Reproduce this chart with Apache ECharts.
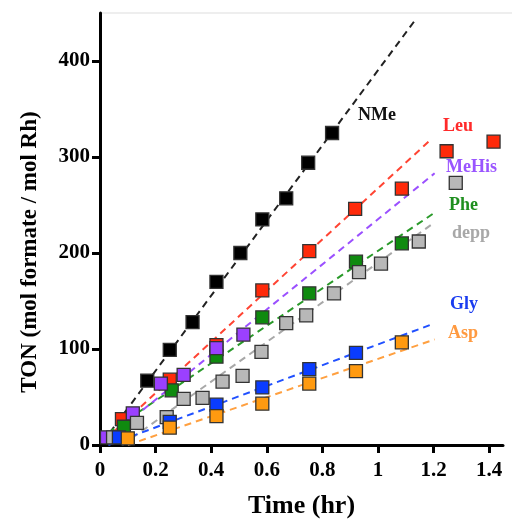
<!DOCTYPE html>
<html>
<head>
<meta charset="utf-8">
<script src="https://cdn.jsdelivr.net/npm/echarts@6/dist/echarts.min.js"></script>
<style>
  html, body { margin: 0; padding: 0; background: #fff; }
  #chart { width: 512px; height: 521px; }
</style>
</head>
<body>
<div id="chart"></div>
<script>
// measured points [time (hr), TON]
const nmePts = [[0.17, 67], [0.251, 99], [0.333, 128], [0.419, 170], [0.505, 200], [0.584, 235], [0.67, 257], [0.749, 294], [0.835, 325]]
const leuPts = [[0.079, 27], [0.251, 68], [0.419, 104], [0.584, 161], [0.753, 202], [0.918, 246], [1.086, 267], [1.247, 306], [1.416, 316]]
const phePts = [[0.086, 19], [0.258, 57], [0.419, 92], [0.584, 133], [0.753, 158], [0.921, 191], [1.086, 210]]
const mehisPts = [[0.025, 8], [0.118, 33], [0.219, 64], [0.301, 73], [0.419, 101], [0.516, 115]]
const deppPts = [[0.047, 8], [0.133, 23], [0.24, 29], [0.301, 48], [0.369, 49], [0.441, 66], [0.513, 72], [0.581, 97], [0.67, 127], [0.742, 135], [0.842, 158], [0.932, 180], [1.011, 189], [1.147, 212], [1.28, 273]]
const glyPts = [[0.068, 8], [0.251, 24], [0.419, 42], [0.584, 60], [0.753, 79], [0.921, 96]]
const aspPts = [[0.1, 7], [0.251, 18], [0.419, 30], [0.584, 43], [0.753, 64], [0.921, 77], [1.086, 107]]

// dashed fit lines, endpoints
const nmeFit = [[0.01, 3], [1.14, 445]]
const leuFit = [[0.02, 6], [1.186, 317]]
const pheFit = [[0.03, 13], [1.204, 242]]
const mehisFit = [[0.02, 5], [1.204, 283]]
const deppFit = [[0.08, 0], [1.19, 229]]
const glyFit = [[0.03, 0], [1.197, 126]]
const aspFit = [[0.1, 0], [1.204, 110]]

const xTicks = [0, 0.2, 0.4, 0.6, 0.8, 1, 1.2, 1.4]
const yTicks = [0, 100, 200, 300, 400]

const groups = [
  { name: 'NMe', pts: nmePts, fit: nmeFit, fill: '#000000', line: '#222222', text: '#111111', lx: 358, ly: 115 },
  { name: 'Leu', pts: leuPts, fit: leuFit, fill: '#ff2a0a', line: '#ff4433', text: '#ff2a2a', lx: 443, ly: 126 },
  { name: 'Phe', pts: phePts, fit: pheFit, fill: '#0f8a0f', line: '#2a9a2a', text: '#1f8f1f', lx: 449, ly: 205 },
  { name: 'MeHis', pts: mehisPts, fit: mehisFit, fill: '#9b40ff', line: '#9b50ff', text: '#9a55ff', lx: 446, ly: 167 },
  { name: 'depp', pts: deppPts, fit: deppFit, fill: '#b8b8b8', line: '#a8a8a8', text: '#a8a8a8', lx: 452, ly: 233 },
  { name: 'Gly', pts: glyPts, fit: glyFit, fill: '#0a3cff', line: '#2050ff', text: '#1a3cf0', lx: 450, ly: 304 },
  { name: 'Asp', pts: aspPts, fit: aspFit, fill: '#ff9a10', line: '#ffa040', text: '#ff9a40', lx: 448, ly: 333 },
]

const font = '"Liberation Serif", "Times New Roman", serif'

const chart = echarts.init(document.getElementById('chart'))

const series = []
groups.forEach((g) => {
  series.push({
    type: 'line',
    data: g.fit,
    symbol: 'none',
    silent: true,
    z: 1,
    lineStyle: { color: g.line, width: 2, type: [7, 5] },
  })
})
groups.forEach((g) => {
  series.push({
    name: g.name,
    type: 'scatter',
    data: g.pts,
    symbol: 'rect',
    symbolSize: 13,
    z: 3,
    itemStyle: { color: g.fill, opacity: 1, borderColor: '#333', borderWidth: 1.3 },
  })
})

chart.setOption({
  animation: false,
  grid: { left: 100, right: 9, top: 13, bottom: 76, outerBoundsMode: 'none' },
  xAxis: {
    type: 'value',
    min: 0,
    max: 1.45,
    name: 'Time (hr)',
    nameLocation: 'middle',
    nameGap: 48,
    nameTextStyle: { fontFamily: font, fontWeight: 'bold', fontSize: 26, color: '#000' },
    axisLine: { lineStyle: { color: '#000', width: 3 } },
    axisTick: { show: true, length: 8, customValues: xTicks, lineStyle: { color: '#000', width: 3 } },
    axisLabel: { customValues: xTicks, margin: 15, fontFamily: font, fontWeight: 'bold', fontSize: 21, color: '#000' },
    splitLine: { show: false },
  },
  yAxis: {
    type: 'value',
    min: 0,
    max: 450,
    axisLine: { show: true, lineStyle: { color: '#000', width: 3 } },
    axisTick: { show: true, length: 8, customValues: yTicks, lineStyle: { color: '#000', width: 3 } },
    axisLabel: { customValues: yTicks, margin: 10, fontFamily: font, fontWeight: 'bold', fontSize: 21, color: '#000' },
    splitLine: { show: false },
  },
  graphic: [
    { type: 'line', shape: { x1: 100, y1: 13, x2: 512, y2: 13 }, style: { stroke: '#dddddd', lineWidth: 1 }, silent: true },
    {
      type: 'text',
      x: 30,
      y: 252,
      rotation: Math.PI / 2,
      style: { text: 'TON (mol formate / mol Rh)', fill: '#000', font: 'bold 23px ' + font, align: 'center', verticalAlign: 'middle' },
    },
  ].concat(groups.map((g) => ({
    type: 'text',
    x: g.lx,
    y: g.ly,
    style: { text: g.name, fill: g.text, font: 'bold 18px ' + font, verticalAlign: 'middle' },
  }))),
  series,
})
</script>
</body>
</html>
